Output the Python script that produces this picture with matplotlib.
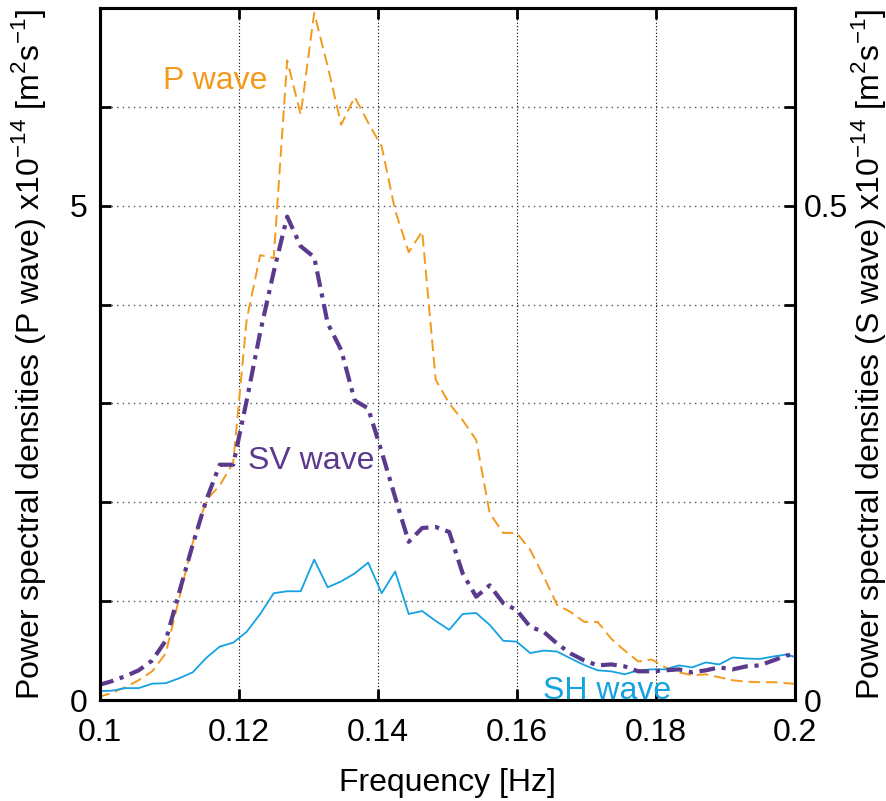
import numpy as np
import matplotlib
matplotlib.use('Agg')
import matplotlib.pyplot as plt

plt.rcParams['font.family'] = ['Liberation Sans', 'DejaVu Sans']
plt.rcParams['mathtext.fontset'] = 'custom'
plt.rcParams['mathtext.rm'] = 'Liberation Sans'
plt.rcParams['font.size'] = 23

# frequency bins (uniform sampling), Hz
f0 = 0.09974
df = 0.0019424
freq = f0 + df * np.arange(53)

# P wave PSD (x1e-14, left axis)
p_wave = [0.03, 0.07, 0.13, 0.20, 0.29, 0.47, 1.03, 1.59, 2.02, 2.17,
          2.40, 3.85, 4.50, 4.47, 6.47, 5.92, 6.95, 6.41, 5.82, 6.10,
          5.84, 5.60, 4.95, 4.53, 4.74, 3.24, 3.00, 2.83, 2.63, 1.89,
          1.69, 1.69, 1.52, 1.25, 0.96, 0.89, 0.79, 0.79, 0.62, 0.50,
          0.39, 0.41, 0.33, 0.28, 0.25, 0.26, 0.23, 0.20, 0.185, 0.18,
          0.18, 0.17, 0.16]

# SV wave PSD (x1e-14, right axis)
sv_wave = [0.015, 0.019, 0.024, 0.030, 0.040, 0.060, 0.109, 0.157, 0.202, 0.238,
           0.238, 0.303, 0.372, 0.433, 0.489, 0.459, 0.448, 0.381, 0.354, 0.303,
           0.295, 0.251, 0.205, 0.160, 0.174, 0.175, 0.170, 0.128, 0.1045, 0.116,
           0.098, 0.091, 0.074, 0.069, 0.057, 0.047, 0.040, 0.035, 0.036, 0.034,
           0.029, 0.029, 0.030, 0.031, 0.028, 0.030, 0.033, 0.031, 0.034, 0.035,
           0.040, 0.045, 0.047]

# SH wave PSD (x1e-14, right axis)
sh_wave = [0.009, 0.0094, 0.012, 0.012, 0.0165, 0.017, 0.022, 0.028, 0.0425, 0.054,
           0.058, 0.069, 0.087, 0.108, 0.110, 0.110, 0.142, 0.114, 0.120, 0.128,
           0.139, 0.108, 0.130, 0.087, 0.090, 0.080, 0.071, 0.087, 0.088, 0.076,
           0.060, 0.059, 0.0475, 0.050, 0.049, 0.042, 0.0354, 0.030, 0.029, 0.026,
           0.030, 0.031, 0.031, 0.035, 0.033, 0.038, 0.036, 0.043, 0.042, 0.0415,
           0.044, 0.046, 0.042]

x_ticks = [0.1, 0.12, 0.14, 0.16, 0.18, 0.2]
x_labels = ['0.1', '0.12', '0.14', '0.16', '0.18', '0.2']
p_ticks = [0, 1, 2, 3, 4, 5, 6, 7]
p_labels = ['0', '', '', '', '', '5', '', '']
s_ticks = [0, 0.1, 0.2, 0.3, 0.4, 0.5, 0.6, 0.7]
s_labels = ['0', '', '', '', '', '0.5', '', '']

c_p = '#f39a1e'
c_sv = '#5b3a8e'
c_sh = '#14a2e2'

fig = plt.figure(figsize=(8.87, 8.01), dpi=100)
ax = fig.add_axes([100/887, 101/801, 695/887, 692/801])
ax2 = ax.twinx()

ax.plot(freq, p_wave, color=c_p, lw=1.4, linestyle=(0, (6, 3)))
ax2.plot(freq, sh_wave, color=c_sh, lw=1.3)
ax2.plot(freq, sv_wave, color=c_sv, lw=3.0, linestyle=(0, (3.8, 1.6, 1.0, 1.6)))

ax.set_xlim(0.1, 0.2)
ax.set_ylim(0, 7)
ax2.set_ylim(0, 0.7)

ax.set_xticks(x_ticks)
ax.set_xticklabels(x_labels)
ax.set_yticks(p_ticks)
ax.set_yticklabels(p_labels)
ax2.set_yticks(s_ticks)
ax2.set_yticklabels(s_labels)

ax.tick_params(axis='x', direction='in', length=8, width=2, top=True, pad=13)
ax.tick_params(axis='y', direction='in', length=8, width=2, pad=9)
ax2.tick_params(axis='y', direction='in', length=8, width=2, pad=6)

for a in (ax, ax2):
    for s in a.spines.values():
        s.set_linewidth(2.2)

ax.grid(axis='y', color='#555555', linestyle=(0, (1, 3)), lw=1)
ax.grid(axis='x', color='black', linestyle=(0, (1, 2)), lw=0.8)

ax.set_xlabel('Frequency [Hz]', labelpad=14)
ax.set_ylabel(r'Power spectral densities (P wave) x10$^{\mathregular{-14}}$ [m$^{\mathregular{2}}$s$^{\mathregular{-1}}$]',
              labelpad=16)
ax2.set_ylabel(r'Power spectral densities (S wave) x10$^{\mathregular{-14}}$ [m$^{\mathregular{2}}$s$^{\mathregular{-1}}$]',
               labelpad=1)

ax.text(0.10906, 6.18, 'P wave', color=c_p, ha='left', va='baseline')
ax.text(0.12129, 2.34, 'SV wave', color=c_sv, ha='left', va='baseline')
ax.text(0.16374, 0.01, 'SH wave', color=c_sh, ha='left', va='baseline')

fig.savefig('out.png', dpi=100)
